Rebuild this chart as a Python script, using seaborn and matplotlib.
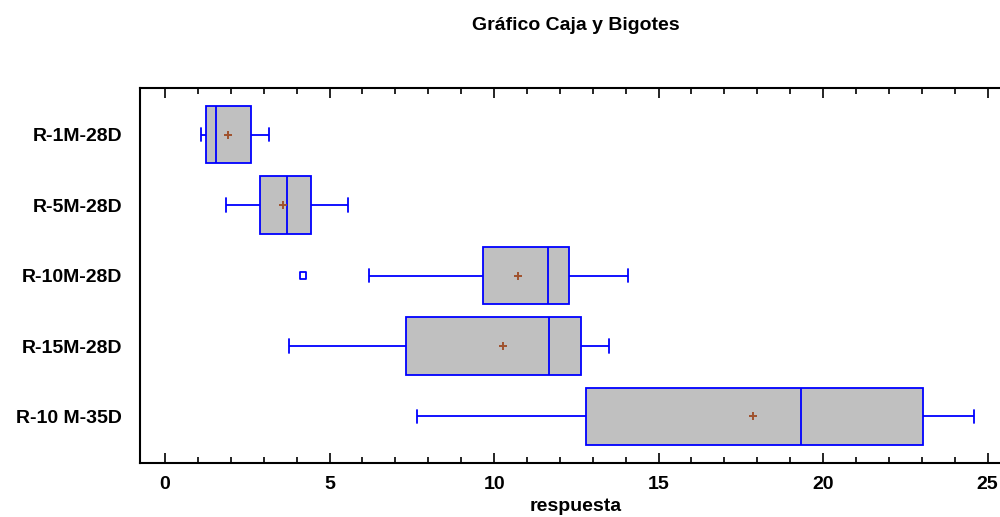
import numpy as np
import pandas as pd
import matplotlib
matplotlib.use("Agg")
import matplotlib.pyplot as plt
import seaborn as sns
from matplotlib.ticker import MultipleLocator

# ---- data ----
categories = ["R-1M-28D", "R-5M-28D", "R-10M-28D", "R-15M-28D", "R-10 M-35D"]
whisker_low = [1.09, 1.85, 6.20, 3.77, 7.66]
q1 = [1.25, 2.90, 9.65, 7.33, 12.80]
median = [1.55, 3.70, 11.64, 11.67, 19.33]
q3 = [2.62, 4.44, 12.28, 12.63, 23.04]
whisker_high = [3.16, 5.55, 14.07, 13.50, 24.60]
means = [1.90, 3.59, 10.73, 10.27, 17.86]
outlier_groups = ["R-10M-28D"]
outlier_values = [4.19]

title = "Gráfico Caja y Bigotes"
xlabel = "respuesta"

# long-form table of the five-number summaries
rows = []
for i, c in enumerate(categories):
    for v in (whisker_low[i], q1[i], median[i], q3[i], whisker_high[i]):
        rows.append({"grupo": c, "respuesta": v})
df = pd.DataFrame(rows)

sns.set_theme(style="white")
plt.rcParams["font.family"] = ["Liberation Sans", "DejaVu Sans"]
plt.rcParams["font.weight"] = "bold"

fig = plt.figure(figsize=(10, 5.17), dpi=100)
ax = fig.add_axes([0.140, 0.1044, 0.872, 0.7254])

blue = "#0000ff"
sns.boxplot(data=df, x="respuesta", y="grupo", order=categories, orient="h",
            color="#c0c0c0", linecolor=blue, linewidth=1.3, saturation=1,
            width=0.81, whis=1.5, fliersize=0, capwidths=0.185, ax=ax)

sns.scatterplot(x=means, y=categories, marker="+", s=28, color="#a0522d",
                linewidth=1.4, zorder=5, ax=ax, legend=False)
sns.scatterplot(x=outlier_values, y=outlier_groups, marker="s", s=20,
                facecolor="none", edgecolor=blue, linewidth=1.3, zorder=5,
                ax=ax, legend=False)

ax.set_xlim(-0.76, 25.74)
ax.set_ylim(4.66, -0.66)
ax.xaxis.set_major_locator(MultipleLocator(5))
ax.xaxis.set_minor_locator(MultipleLocator(1))
ax.tick_params(axis="x", which="both", direction="in", top=True, bottom=True,
               color="#000000", width=1.2, labelsize=14, pad=9)
ax.tick_params(axis="x", which="major", length=7)
ax.tick_params(axis="x", which="minor", length=4)
ax.tick_params(axis="y", length=0, labelsize=14, pad=13)
for lab in ax.get_xticklabels() + ax.get_yticklabels():
    lab.set_fontweight("bold")
    lab.set_color("#000000")

for side in ["left", "top", "bottom", "right"]:
    ax.spines[side].set_visible(True)
    ax.spines[side].set_color("#000000")
    ax.spines[side].set_linewidth(1.5)

ax.set_ylabel("")
ax.set_xlabel(xlabel, fontsize=14, fontweight="bold", color="#000000", labelpad=4)

fig.text(0.576, 1 - 25 / 517, title, ha="center", va="center",
         fontsize=14, fontweight="bold", color="#000000")

fig.savefig("out.png", dpi=100)
